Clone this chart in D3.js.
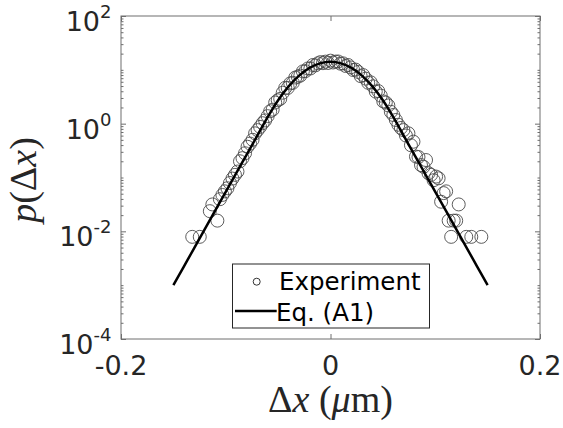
<!DOCTYPE html>
<html><head><meta charset="utf-8">
<script src="https://cdn.jsdelivr.net/npm/d3@7"></script>
<style>body{margin:0;background:#fff}</style>
</head><body>
<svg id="chart" width="563" height="428"></svg>
<script>
// Experiment: histogram of displacements (x in um, p in 1/um)
const expX = [-0.1320,-0.1248,-0.1152,-0.1128,-0.1080,-0.1056,-0.1032,-0.1008,-0.0984,-0.0960,
  -0.0936,-0.0912,-0.0888,-0.0864,-0.0840,-0.0816,-0.0792,-0.0768,-0.0744,-0.0720,
  -0.0696,-0.0672,-0.0648,-0.0624,-0.0600,-0.0576,-0.0552,-0.0528,-0.0504,-0.0480,
  -0.0456,-0.0432,-0.0408,-0.0384,-0.0360,-0.0336,-0.0312,-0.0288,-0.0264,-0.0240,
  -0.0216,-0.0192,-0.0168,-0.0144,-0.0120,-0.0096,-0.0072,-0.0048,-0.0024,0.0000,
  0.0024,0.0048,0.0072,0.0096,0.0120,0.0144,0.0168,0.0192,0.0216,0.0240,
  0.0264,0.0288,0.0312,0.0336,0.0360,0.0384,0.0408,0.0432,0.0456,0.0480,
  0.0504,0.0528,0.0552,0.0576,0.0600,0.0624,0.0648,0.0672,0.0696,0.0720,
  0.0744,0.0768,0.0792,0.0816,0.0840,0.0864,0.0888,0.0912,0.0936,0.0960,
  0.0984,0.1008,0.1032,0.1056,0.1080,0.1104,0.1128,0.1152,0.1176,0.1200,
  0.1224,0.1296,0.1344,0.1440];
const expP = [0.0079,0.0079,0.0237,0.0316,0.0158,0.0395,0.0474,0.0553,0.0632,0.0790,
  0.0955,0.112,0.129,0.200,0.229,0.282,0.372,0.427,0.501,0.661,
  0.759,0.871,1.02,1.15,1.38,1.70,1.82,2.47,2.72,2.89,
  3.76,4.63,4.61,5.60,5.74,7.19,7.45,7.82,9.35,9.44,
  10.6,10.6,12.3,12.1,13.2,13.9,13.3,14.2,13.4,14.8,
  13.7,14.2,14.3,13.0,13.2,11.8,12.3,11.1,9.93,10.1,
  9.14,7.64,7.98,6.87,5.74,5.86,4.94,3.94,4.03,3.32,
  2.59,2.47,2.18,1.66,1.45,1.17,0.955,0.832,0.759,0.603,
  0.661,0.398,0.462,0.245,0.240,0.170,0.158,0.211,0.120,0.112,
  0.0891,0.104,0.0966,0.0355,0.0513,0.0553,0.0158,0.0079,0.0158,0.0158,
  0.0316,0.0079,0.0079,0.0079];
// Eq. (A1) curve
const fitX = [-0.15,-0.14,-0.13,-0.12,-0.11,-0.10,-0.09,-0.08,-0.07,-0.06,-0.05,-0.04,-0.03,-0.02,-0.01,
  0,0.01,0.02,0.03,0.04,0.05,0.06,0.07,0.08,0.09,0.10,0.11,0.12,0.13,0.14,0.15];
const fitP = [0.00100,0.00222,0.00493,0.0110,0.0244,0.0541,0.120,0.267,0.593,1.32,2.72,4.92,7.82,10.9,13.2,
  14.1,13.2,10.9,7.82,4.92,2.72,1.32,0.593,0.267,0.120,0.0541,0.0244,0.0110,0.00493,0.00222,0.00100];
const xTicks = [-0.2, 0, 0.2];
const xTickLabels = ["-0.2", "0", "0.2"];
const yTickExps = [-4, -2, 0, 2];
const legendLabels = ["Experiment", "Eq. (A1)"];

const svg = d3.select("#chart");
const L = 121, R = 540, T = 16, B = 339;
const x = d3.scaleLinear().domain([-0.2, 0.2]).range([L, R]);
const y = d3.scaleLog().domain([1e-4, 1e2]).range([B, T]);
const axisColor = "#6e6e6e", textColor = "#262626";
const sans = "'DejaVu Sans', sans-serif", serif = "'Liberation Serif', 'Times New Roman', serif";

svg.append("rect").attr("width", 563).attr("height", 428).attr("fill", "#fff");

// ticks
const majorY = yTickExps.map(e => Math.pow(10, e));
const minorY = [];
for (let e = -4; e < 2; e++) for (let m = 1; m <= 9; m++) {
  const v = m * Math.pow(10, e);
  if (!majorY.some(t => Math.abs(t - v) / v < 1e-9)) minorY.push(v);
}
function styleAxis(g) {
  g.select(".domain").remove();
  g.selectAll(".tick line").attr("stroke", axisColor).attr("stroke-width", 1);
  g.selectAll(".tick text").remove();
}
svg.append("g").attr("transform", `translate(${L},0)`)
  .call(d3.axisLeft(y).tickValues(majorY).tickSize(-5).tickFormat("")).call(styleAxis);
svg.append("g").attr("transform", `translate(${L},0)`)
  .call(d3.axisLeft(y).tickValues(minorY).tickSize(-2.5).tickFormat("")).call(styleAxis);
svg.append("g").attr("transform", `translate(${R},0)`)
  .call(d3.axisRight(y).tickValues(majorY).tickSize(-5).tickFormat("")).call(styleAxis);
svg.append("g").attr("transform", `translate(${R},0)`)
  .call(d3.axisRight(y).tickValues(minorY).tickSize(-2.5).tickFormat("")).call(styleAxis);
svg.append("g").attr("transform", `translate(0,${B})`)
  .call(d3.axisBottom(x).tickValues(xTicks).tickSize(-5).tickFormat("")).call(styleAxis);
svg.append("g").attr("transform", `translate(0,${T})`)
  .call(d3.axisTop(x).tickValues(xTicks).tickSize(-5).tickFormat("")).call(styleAxis);

// box
svg.append("rect").attr("x", L).attr("y", T).attr("width", R - L).attr("height", B - T)
  .attr("fill", "none").attr("stroke", axisColor).attr("stroke-width", 1);

// y tick labels
yTickExps.forEach(e => {
  const t = svg.append("text").attr("x", 111.5).attr("y", y(Math.pow(10, e)) + 15)
    .attr("text-anchor", "end").attr("font-family", sans).attr("font-size", 27).attr("fill", textColor);
  t.append("tspan").text("10");
  t.append("tspan").attr("dy", -13).attr("font-size", 18).text(String(e));
});
// x tick labels
xTicks.forEach((v, i) => {
  svg.append("text").attr("x", x(v)).attr("y", 375).attr("text-anchor", "middle")
    .attr("font-family", sans).attr("font-size", 27).attr("fill", textColor).text(xTickLabels[i]);
});

// data
const clipId = "plotclip";
svg.append("clipPath").attr("id", clipId).append("rect")
  .attr("x", L).attr("y", T).attr("width", R - L).attr("height", B - T);
const plot = svg.append("g").attr("clip-path", `url(#${clipId})`);
plot.selectAll("circle.exp").data(expX.map((v, i) => [v, expP[i]])).enter()
  .append("circle").attr("class", "exp")
  .attr("cx", d => x(d[0])).attr("cy", d => y(d[1])).attr("r", 6.5)
  .attr("fill", "none").attr("stroke", "#4a4a4a").attr("stroke-width", 0.9);
const line = d3.line().x(d => x(d[0])).y(d => y(d[1])).curve(d3.curveCatmullRom.alpha(0.5));
plot.append("path").datum(fitX.map((v, i) => [v, fitP[i]]))
  .attr("d", line).attr("fill", "none").attr("stroke", "#000").attr("stroke-width", 2.5);

// legend
const lg = svg.append("g");
lg.append("rect").attr("x", 232.5).attr("y", 264).attr("width", 197).attr("height", 64)
  .attr("fill", "#fff").attr("stroke", "#262626").attr("stroke-width", 1);
lg.append("circle").attr("cx", 256.7).attr("cy", 281.7).attr("r", 3.5)
  .attr("fill", "none").attr("stroke", "#333").attr("stroke-width", 1);
lg.append("line").attr("x1", 235).attr("x2", 276.7).attr("y1", 311).attr("y2", 311)
  .attr("stroke", "#000").attr("stroke-width", 2.5);
lg.append("text").attr("x", 279).attr("y", 290).attr("font-family", sans).attr("font-size", 24.5)
  .attr("fill", "#000").text(legendLabels[0]);
lg.append("text").attr("x", 276).attr("y", 320.5).attr("font-family", sans).attr("font-size", 24.5)
  .attr("fill", "#000").text(legendLabels[1]);

// axis labels
const xl = svg.append("text").attr("x", 330.5).attr("y", 411.5).attr("text-anchor", "middle")
  .attr("font-family", serif).attr("font-size", 38).attr("fill", textColor);
xl.append("tspan").text("Δ");
xl.append("tspan").attr("font-style", "italic").text("x");
xl.append("tspan").text(" (");
xl.append("tspan").attr("font-style", "italic").text("μ");
xl.append("tspan").text("m)");
const yl = svg.append("text").attr("transform", "translate(36,180) rotate(-90)").attr("text-anchor", "middle")
  .attr("font-family", serif).attr("font-size", 38).attr("fill", textColor);
yl.append("tspan").attr("font-style", "italic").text("p");
yl.append("tspan").text("(Δ");
yl.append("tspan").attr("font-style", "italic").text("x");
yl.append("tspan").text(")");
</script>
</body></html>
